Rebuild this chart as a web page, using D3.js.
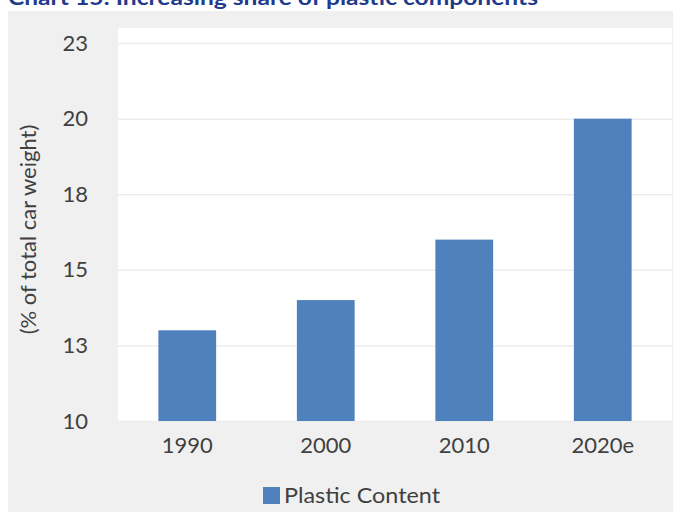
<!DOCTYPE html>
<html>
<head>
<meta charset="utf-8">
<script src="https://cdn.jsdelivr.net/npm/d3@7"></script>
<style>
  html, body { margin: 0; padding: 0; background: #fff; }
  svg { display: block; }
</style>
</head>
<body>
<div id="chart"></div>
<script>
const title = 'Chart 15: Increasing share of plastic components';
const years = ['1990', '2000', '2010', '2020e'];
const plasticContent = [13, 14, 16, 20];
const yTicks = [10, 12.5, 15, 17.5, 20, 22.5];
const seriesName = 'Plastic Content';
const yTitle = '(% of total car weight)';

const width = 673;
const height = 512;
const font = 'Lato, "Open Sans", sans-serif';
const textColor = '#404040';
const barColor = '#4f81bd';

const margin = { top: 28, right: 1, bottom: 91, left: 118 };

const svg = d3.select('#chart')
  .append('svg')
  .attr('width', width)
  .attr('height', height);

// grey chart area
svg.append('rect')
  .attr('x', 8)
  .attr('y', 11)
  .attr('width', width - 8)
  .attr('height', height - 11)
  .attr('fill', '#f0f0f0');

// title sits partly above the page edge, as in the source
svg.append('text')
  .attr('x', 8)
  .attr('y', 5)
  .attr('fill', '#1f3c8c')
  .attr('font-family', font)
  .attr('font-weight', 'bold')
  .attr('font-size', 20)
  .attr('textLength', 530)
  .attr('lengthAdjust', 'spacingAndGlyphs')
  .text(title);

const x = d3.scaleBand()
  .domain(years)
  .range([margin.left, width - margin.right])
  .paddingInner(0.583)
  .paddingOuter(0.2915);

const y = d3.scaleLinear()
  .domain([10, 23])
  .range([height - margin.bottom, margin.top]);

// white plot area
svg.append('rect')
  .attr('x', margin.left)
  .attr('y', margin.top)
  .attr('width', width - margin.right - margin.left)
  .attr('height', y(10) - margin.top)
  .attr('fill', '#ffffff');

const yAxis = d3.axisLeft(y)
  .tickValues(yTicks)
  .tickSize(-(width - margin.right - margin.left))
  .tickPadding(30)
  .tickFormat(d => Math.round(d));

const gy = svg.append('g')
  .attr('transform', `translate(${margin.left},0)`)
  .call(yAxis);
gy.select('.domain').remove();
gy.selectAll('.tick line')
  .attr('stroke', '#ececec')
  .attr('stroke-width', 1.5);
gy.selectAll('.tick text')
  .attr('fill', textColor)
  .attr('font-family', font)
  .attr('font-size', 22);

svg.append('g')
  .selectAll('rect')
  .data(plasticContent)
  .join('rect')
  .attr('x', (d, i) => x(years[i]))
  .attr('y', d => y(d))
  .attr('width', x.bandwidth())
  .attr('height', d => y(10) - y(d))
  .attr('fill', barColor);

const xAxis = d3.axisBottom(x)
  .tickSize(0)
  .tickPadding(16);

const gx = svg.append('g')
  .attr('transform', `translate(0,${y(10)})`)
  .call(xAxis);
gx.select('.domain').remove();
gx.selectAll('.tick text')
  .attr('fill', textColor)
  .attr('font-family', font)
  .attr('font-size', 22);

svg.append('text')
  .attr('transform', `translate(36,${(y(10) + margin.top) / 2 + 5}) rotate(-90)`)
  .attr('text-anchor', 'middle')
  .attr('fill', textColor)
  .attr('font-family', font)
  .attr('font-size', 22)
  .text(yTitle);

// legend
const legend = svg.append('g')
  .attr('transform', 'translate(263,487)');
legend.append('rect')
  .attr('width', 17)
  .attr('height', 17)
  .attr('fill', barColor);
legend.append('text')
  .attr('x', 21)
  .attr('y', 15.5)
  .attr('fill', textColor)
  .attr('font-family', font)
  .attr('font-size', 22)
  .attr('textLength', 156)
  .attr('lengthAdjust', 'spacingAndGlyphs')
  .text(seriesName);
</script>
</body>
</html>
